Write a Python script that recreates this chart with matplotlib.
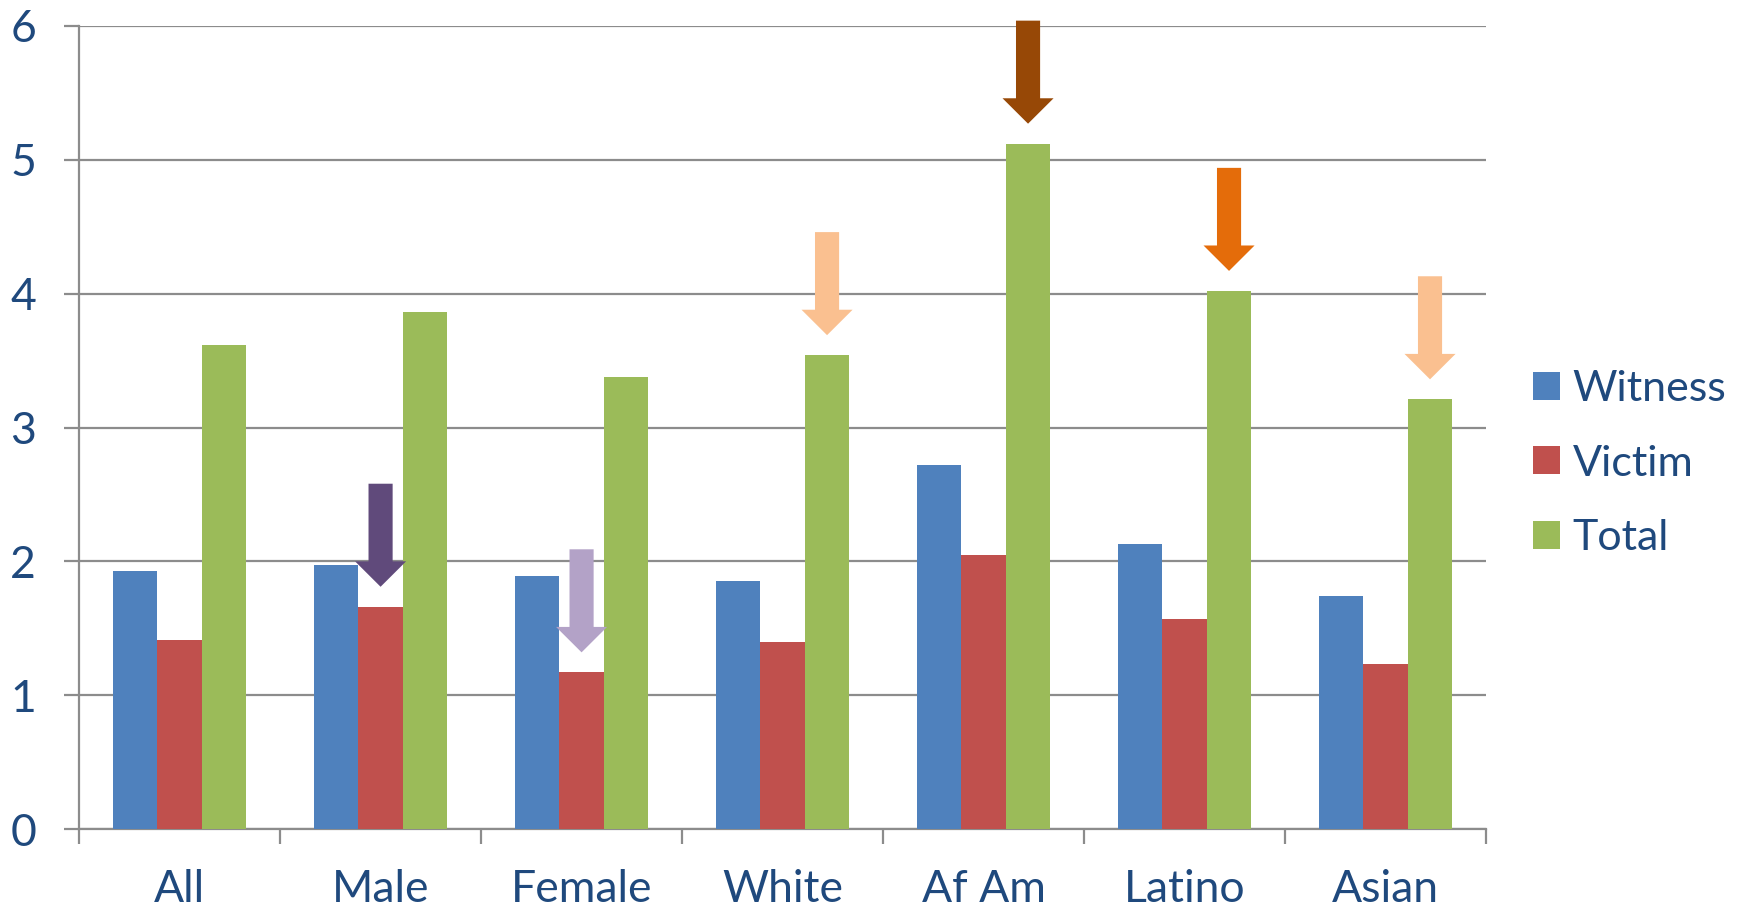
import matplotlib
matplotlib.use('Agg')
import matplotlib.pyplot as plt
import matplotlib.patches as mpatches
import numpy as np

plt.rcParams['font.family'] = ['Lato', 'DejaVu Sans']

groups = ['All', 'Male', 'Female', 'White', 'Af Am', 'Latino', 'Asian']
witness = [1.93, 1.97, 1.89, 1.85, 2.72, 2.13, 1.74]
victim = [1.41, 1.66, 1.17, 1.40, 2.05, 1.57, 1.23]
total = [3.62, 3.86, 3.38, 3.54, 5.12, 4.02, 3.21]

series = ['Witness', 'Victim', 'Total']
colors = ['#4F81BD', '#C0504D', '#9BBB59']

# arrows: (group, series it points at, colour)
arrows = [
    ('Male', 'Victim', '#604A7B'),
    ('Female', 'Victim', '#B3A2C7'),
    ('White', 'Total', '#FAC090'),
    ('Af Am', 'Total', '#974806'),
    ('Latino', 'Total', '#E46C0A'),
    ('Asian', 'Total', '#FAC090'),
]

text_color = '#1F497D'
grid_color = '#8C8C8C'
fs = 32

fig = plt.figure(figsize=(17.46, 9.09), dpi=100)
ax = fig.add_axes([0.0453, 0.088, 0.8058, 0.8834])

x = np.arange(len(groups)) + 0.5
width = 0.2214
values = {'Witness': witness, 'Victim': victim, 'Total': total}
offsets = {'Witness': -width, 'Victim': 0.0, 'Total': width}

for name, c in zip(series, colors):
    ax.bar(x + offsets[name], values[name], width, color=c, label=name, zorder=3)

# down arrows above the highlighted bars
gap = 0.15
shaft_len = 0.58
head_len = 0.19
for grp, ser, c in arrows:
    i = groups.index(grp)
    xc = x[i] + offsets[ser]
    tip = values[ser][i] + gap
    top = tip + shaft_len + head_len
    arr = mpatches.FancyArrow(xc, top, 0, -(top - tip), width=0.12,
                              head_width=0.254, head_length=head_len,
                              length_includes_head=True, color=c,
                              linewidth=0, zorder=4, clip_on=False)
    ax.add_patch(arr)

ax.set_xlim(0, len(groups))
ax.set_ylim(0, 6)
ax.set_yticks(range(0, 7))
ax.yaxis.grid(True, color=grid_color, linewidth=1.6, zorder=1)
ax.set_axisbelow(True)

ax.set_xticks(np.arange(len(groups) + 1))
ax.set_xticklabels([])
ax.set_xticks(x, minor=True)
ax.set_xticklabels(groups, minor=True)
ax.tick_params(axis='x', which='major', length=11, width=1.6, color=grid_color, direction='out')
ax.tick_params(axis='x', which='minor', length=0, pad=29, labelsize=fs, labelcolor=text_color)
ax.tick_params(axis='y', length=11, width=1.6, color=grid_color, pad=20,
               labelsize=fs, labelcolor=text_color)

for s in ['top', 'right']:
    ax.spines[s].set_visible(False)
for s in ['left', 'bottom']:
    ax.spines[s].set_color(grid_color)
    ax.spines[s].set_linewidth(1.6)

fig.legend(loc='center left', bbox_to_anchor=(0.878, 0.49), frameon=False,
           fontsize=31, labelcolor=text_color, handlelength=0.62, handleheight=0.62,
           handletextpad=0.3, labelspacing=0.84, borderpad=0, borderaxespad=0)

fig.savefig('out.png', dpi=100)
